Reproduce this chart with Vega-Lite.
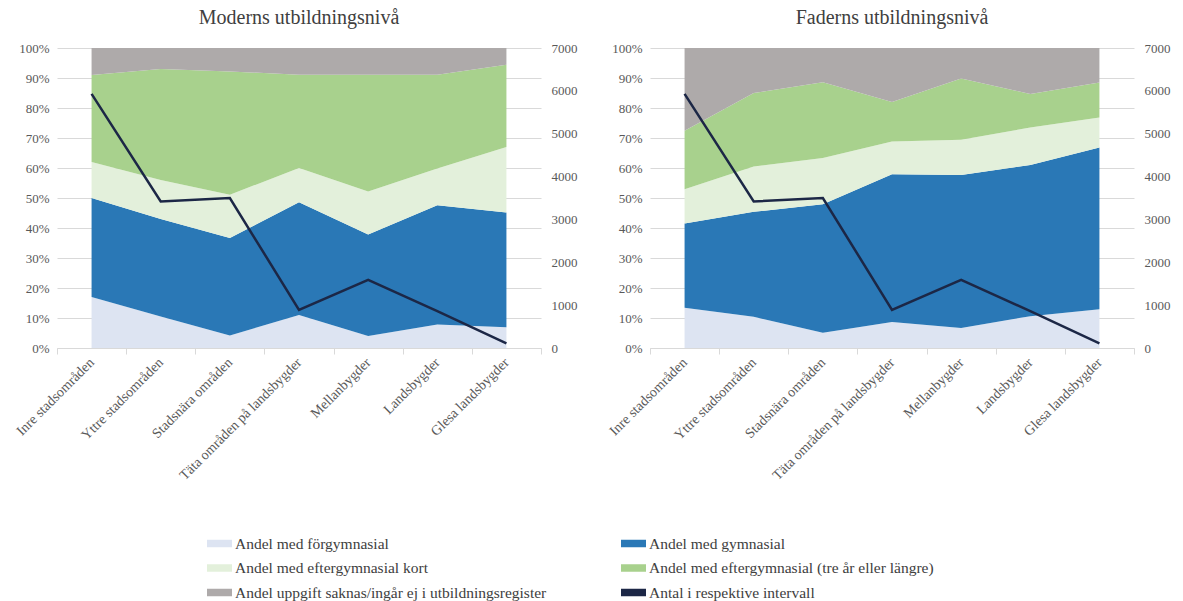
{
  "$schema": "https://vega.github.io/schema/vega-lite/v6.json",
  "background": "white",
  "padding": {"left": 13, "top": 8, "right": 5, "bottom": 0},
  "spacing": 29,
  "config": {
    "view": {"stroke": null},
    "font": "Liberation Serif",
    "axis": {"labelFont": "Liberation Serif", "labelColor": "#595959", "labelFontSize": 13, "titleFont": "Liberation Serif"},
    "title": {"font": "Liberation Serif", "fontSize": 20, "fontWeight": "normal", "color": "#404040", "offset": 14}
  },
  "datasets": {
    "andelar": [
      {"forelder": "Modern", "omrade": "Inre stadsområden", "nr": 1, "kategori": "Andel med förgymnasial", "andel": 0.17},
      {"forelder": "Modern", "omrade": "Inre stadsområden", "nr": 2, "kategori": "Andel med gymnasial", "andel": 0.33},
      {"forelder": "Modern", "omrade": "Inre stadsområden", "nr": 3, "kategori": "Andel med eftergymnasial kort", "andel": 0.12},
      {"forelder": "Modern", "omrade": "Inre stadsområden", "nr": 4, "kategori": "Andel med eftergymnasial (tre år eller längre)", "andel": 0.29},
      {"forelder": "Modern", "omrade": "Inre stadsområden", "nr": 5, "kategori": "Andel uppgift saknas/ingår ej i utbildningsregister", "andel": 0.09},
      {"forelder": "Modern", "omrade": "Yttre stadsområden", "nr": 1, "kategori": "Andel med förgymnasial", "andel": 0.105},
      {"forelder": "Modern", "omrade": "Yttre stadsområden", "nr": 2, "kategori": "Andel med gymnasial", "andel": 0.325},
      {"forelder": "Modern", "omrade": "Yttre stadsområden", "nr": 3, "kategori": "Andel med eftergymnasial kort", "andel": 0.13},
      {"forelder": "Modern", "omrade": "Yttre stadsområden", "nr": 4, "kategori": "Andel med eftergymnasial (tre år eller längre)", "andel": 0.37},
      {"forelder": "Modern", "omrade": "Yttre stadsområden", "nr": 5, "kategori": "Andel uppgift saknas/ingår ej i utbildningsregister", "andel": 0.07},
      {"forelder": "Modern", "omrade": "Stadsnära områden", "nr": 1, "kategori": "Andel med förgymnasial", "andel": 0.042},
      {"forelder": "Modern", "omrade": "Stadsnära områden", "nr": 2, "kategori": "Andel med gymnasial", "andel": 0.325},
      {"forelder": "Modern", "omrade": "Stadsnära områden", "nr": 3, "kategori": "Andel med eftergymnasial kort", "andel": 0.144},
      {"forelder": "Modern", "omrade": "Stadsnära områden", "nr": 4, "kategori": "Andel med eftergymnasial (tre år eller längre)", "andel": 0.411},
      {"forelder": "Modern", "omrade": "Stadsnära områden", "nr": 5, "kategori": "Andel uppgift saknas/ingår ej i utbildningsregister", "andel": 0.078},
      {"forelder": "Modern", "omrade": "Täta områden på landsbygder", "nr": 1, "kategori": "Andel med förgymnasial", "andel": 0.11},
      {"forelder": "Modern", "omrade": "Täta områden på landsbygder", "nr": 2, "kategori": "Andel med gymnasial", "andel": 0.376},
      {"forelder": "Modern", "omrade": "Täta områden på landsbygder", "nr": 3, "kategori": "Andel med eftergymnasial kort", "andel": 0.114},
      {"forelder": "Modern", "omrade": "Täta områden på landsbygder", "nr": 4, "kategori": "Andel med eftergymnasial (tre år eller längre)", "andel": 0.311},
      {"forelder": "Modern", "omrade": "Täta områden på landsbygder", "nr": 5, "kategori": "Andel uppgift saknas/ingår ej i utbildningsregister", "andel": 0.089},
      {"forelder": "Modern", "omrade": "Mellanbygder", "nr": 1, "kategori": "Andel med förgymnasial", "andel": 0.04},
      {"forelder": "Modern", "omrade": "Mellanbygder", "nr": 2, "kategori": "Andel med gymnasial", "andel": 0.338},
      {"forelder": "Modern", "omrade": "Mellanbygder", "nr": 3, "kategori": "Andel med eftergymnasial kort", "andel": 0.144},
      {"forelder": "Modern", "omrade": "Mellanbygder", "nr": 4, "kategori": "Andel med eftergymnasial (tre år eller längre)", "andel": 0.389},
      {"forelder": "Modern", "omrade": "Mellanbygder", "nr": 5, "kategori": "Andel uppgift saknas/ingår ej i utbildningsregister", "andel": 0.089},
      {"forelder": "Modern", "omrade": "Landsbygder", "nr": 1, "kategori": "Andel med förgymnasial", "andel": 0.078},
      {"forelder": "Modern", "omrade": "Landsbygder", "nr": 2, "kategori": "Andel med gymnasial", "andel": 0.398},
      {"forelder": "Modern", "omrade": "Landsbygder", "nr": 3, "kategori": "Andel med eftergymnasial kort", "andel": 0.122},
      {"forelder": "Modern", "omrade": "Landsbygder", "nr": 4, "kategori": "Andel med eftergymnasial (tre år eller längre)", "andel": 0.313},
      {"forelder": "Modern", "omrade": "Landsbygder", "nr": 5, "kategori": "Andel uppgift saknas/ingår ej i utbildningsregister", "andel": 0.089},
      {"forelder": "Modern", "omrade": "Glesa landsbygder", "nr": 1, "kategori": "Andel med förgymnasial", "andel": 0.069},
      {"forelder": "Modern", "omrade": "Glesa landsbygder", "nr": 2, "kategori": "Andel med gymnasial", "andel": 0.383},
      {"forelder": "Modern", "omrade": "Glesa landsbygder", "nr": 3, "kategori": "Andel med eftergymnasial kort", "andel": 0.218},
      {"forelder": "Modern", "omrade": "Glesa landsbygder", "nr": 4, "kategori": "Andel med eftergymnasial (tre år eller längre)", "andel": 0.274},
      {"forelder": "Modern", "omrade": "Glesa landsbygder", "nr": 5, "kategori": "Andel uppgift saknas/ingår ej i utbildningsregister", "andel": 0.056},
      {"forelder": "Fader", "omrade": "Inre stadsområden", "nr": 1, "kategori": "Andel med förgymnasial", "andel": 0.134},
      {"forelder": "Fader", "omrade": "Inre stadsområden", "nr": 2, "kategori": "Andel med gymnasial", "andel": 0.281},
      {"forelder": "Fader", "omrade": "Inre stadsområden", "nr": 3, "kategori": "Andel med eftergymnasial kort", "andel": 0.114},
      {"forelder": "Fader", "omrade": "Inre stadsområden", "nr": 4, "kategori": "Andel med eftergymnasial (tre år eller längre)", "andel": 0.195},
      {"forelder": "Fader", "omrade": "Inre stadsområden", "nr": 5, "kategori": "Andel uppgift saknas/ingår ej i utbildningsregister", "andel": 0.276},
      {"forelder": "Fader", "omrade": "Yttre stadsområden", "nr": 1, "kategori": "Andel med förgymnasial", "andel": 0.104},
      {"forelder": "Fader", "omrade": "Yttre stadsområden", "nr": 2, "kategori": "Andel med gymnasial", "andel": 0.35},
      {"forelder": "Fader", "omrade": "Yttre stadsområden", "nr": 3, "kategori": "Andel med eftergymnasial kort", "andel": 0.151},
      {"forelder": "Fader", "omrade": "Yttre stadsområden", "nr": 4, "kategori": "Andel med eftergymnasial (tre år eller längre)", "andel": 0.245},
      {"forelder": "Fader", "omrade": "Yttre stadsområden", "nr": 5, "kategori": "Andel uppgift saknas/ingår ej i utbildningsregister", "andel": 0.15},
      {"forelder": "Fader", "omrade": "Stadsnära områden", "nr": 1, "kategori": "Andel med förgymnasial", "andel": 0.051},
      {"forelder": "Fader", "omrade": "Stadsnära områden", "nr": 2, "kategori": "Andel med gymnasial", "andel": 0.428},
      {"forelder": "Fader", "omrade": "Stadsnära områden", "nr": 3, "kategori": "Andel med eftergymnasial kort", "andel": 0.154},
      {"forelder": "Fader", "omrade": "Stadsnära områden", "nr": 4, "kategori": "Andel med eftergymnasial (tre år eller längre)", "andel": 0.253},
      {"forelder": "Fader", "omrade": "Stadsnära områden", "nr": 5, "kategori": "Andel uppgift saknas/ingår ej i utbildningsregister", "andel": 0.114},
      {"forelder": "Fader", "omrade": "Täta områden på landsbygder", "nr": 1, "kategori": "Andel med förgymnasial", "andel": 0.087},
      {"forelder": "Fader", "omrade": "Täta områden på landsbygder", "nr": 2, "kategori": "Andel med gymnasial", "andel": 0.492},
      {"forelder": "Fader", "omrade": "Täta områden på landsbygder", "nr": 3, "kategori": "Andel med eftergymnasial kort", "andel": 0.109},
      {"forelder": "Fader", "omrade": "Täta områden på landsbygder", "nr": 4, "kategori": "Andel med eftergymnasial (tre år eller längre)", "andel": 0.132},
      {"forelder": "Fader", "omrade": "Täta områden på landsbygder", "nr": 5, "kategori": "Andel uppgift saknas/ingår ej i utbildningsregister", "andel": 0.18},
      {"forelder": "Fader", "omrade": "Mellanbygder", "nr": 1, "kategori": "Andel med förgymnasial", "andel": 0.067},
      {"forelder": "Fader", "omrade": "Mellanbygder", "nr": 2, "kategori": "Andel med gymnasial", "andel": 0.51},
      {"forelder": "Fader", "omrade": "Mellanbygder", "nr": 3, "kategori": "Andel med eftergymnasial kort", "andel": 0.117},
      {"forelder": "Fader", "omrade": "Mellanbygder", "nr": 4, "kategori": "Andel med eftergymnasial (tre år eller längre)", "andel": 0.204},
      {"forelder": "Fader", "omrade": "Mellanbygder", "nr": 5, "kategori": "Andel uppgift saknas/ingår ej i utbildningsregister", "andel": 0.102},
      {"forelder": "Fader", "omrade": "Landsbygder", "nr": 1, "kategori": "Andel med förgymnasial", "andel": 0.106},
      {"forelder": "Fader", "omrade": "Landsbygder", "nr": 2, "kategori": "Andel med gymnasial", "andel": 0.504},
      {"forelder": "Fader", "omrade": "Landsbygder", "nr": 3, "kategori": "Andel med eftergymnasial kort", "andel": 0.125},
      {"forelder": "Fader", "omrade": "Landsbygder", "nr": 4, "kategori": "Andel med eftergymnasial (tre år eller längre)", "andel": 0.112},
      {"forelder": "Fader", "omrade": "Landsbygder", "nr": 5, "kategori": "Andel uppgift saknas/ingår ej i utbildningsregister", "andel": 0.153},
      {"forelder": "Fader", "omrade": "Glesa landsbygder", "nr": 1, "kategori": "Andel med förgymnasial", "andel": 0.129},
      {"forelder": "Fader", "omrade": "Glesa landsbygder", "nr": 2, "kategori": "Andel med gymnasial", "andel": 0.539},
      {"forelder": "Fader", "omrade": "Glesa landsbygder", "nr": 3, "kategori": "Andel med eftergymnasial kort", "andel": 0.10},
      {"forelder": "Fader", "omrade": "Glesa landsbygder", "nr": 4, "kategori": "Andel med eftergymnasial (tre år eller längre)", "andel": 0.117},
      {"forelder": "Fader", "omrade": "Glesa landsbygder", "nr": 5, "kategori": "Andel uppgift saknas/ingår ej i utbildningsregister", "andel": 0.115}
    ],
    "antal": [
      {"omrade": "Inre stadsområden", "antal": 5930},
      {"omrade": "Yttre stadsområden", "antal": 3420},
      {"omrade": "Stadsnära områden", "antal": 3500},
      {"omrade": "Täta områden på landsbygder", "antal": 890},
      {"omrade": "Mellanbygder", "antal": 1590},
      {"omrade": "Landsbygder", "antal": 860},
      {"omrade": "Glesa landsbygder", "antal": 110}
    ]
  },
  "hconcat": [
    {
      "title": {"text": "Moderns utbildningsnivå"},
      "width": 484,
      "height": 300,
      "layer": [
        {
          "data": {"name": "andelar"},
          "transform": [{"filter": "datum.forelder === 'Modern'"}],
          "mark": {"type": "area", "opacity": 1},
          "encoding": {
            "x": {"field": "omrade", "type": "nominal", "sort": ["Inre stadsområden", "Yttre stadsområden", "Stadsnära områden", "Täta områden på landsbygder", "Mellanbygder", "Landsbygder", "Glesa landsbygder"], "scale": {"type": "band", "paddingInner": 0, "paddingOuter": 0}, "bandPosition": 0.5, "axis": {"title": null, "labelAngle": -45, "labelAlign": "right", "labelBaseline": "middle", "tickBand": "extent", "domainColor": "#d9d9d9", "tickColor": "#d9d9d9", "tickSize": 6, "labelPadding": 6, "labelFontSize": 14}},
            "y": {"field": "andel", "type": "quantitative", "stack": "zero", "scale": {"domain": [0, 1], "nice": false}, "axis": {"title": null, "format": ".0%", "values": [0, 0.1, 0.2, 0.3, 0.4, 0.5, 0.6, 0.7, 0.8, 0.9, 1], "grid": true, "gridColor": "#d9d9d9", "domain": false, "ticks": false, "labelPadding": 8}},
            "order": {"field": "nr", "type": "quantitative", "sort": "ascending"},
            "color": {"field": "kategori", "type": "nominal",
              "scale": {"domain": ["Andel med förgymnasial", "Andel med gymnasial", "Andel med eftergymnasial kort", "Andel med eftergymnasial (tre år eller längre)", "Andel uppgift saknas/ingår ej i utbildningsregister", "Antal i respektive intervall"], "range": ["#dde4f2", "#2a78b6", "#e3f0db", "#a8d18d", "#aeaaaa", "#1c2746"]},
              "legend": {
                "title": null, "orient": "none", "legendX": 150, "legendY": 483, "columns": 2, "direction": "horizontal",
                "labelFont": "Liberation Serif", "labelFontSize": 15.5, "labelColor": "#404040", "labelLimit": 420,
                "symbolSize": 625, "symbolType": "M-1,-0.3H1V0.3H-1Z", "symbolStrokeWidth": 0, "rowPadding": 3.5, "columnPadding": 74, "labelOffset": 3, "gridAlign": "all",
                "encode": {"symbols": {"update": {
                  "shape": {"signal": "datum.value === 'Antal i respektive intervall' ? 'M-1,-0.07H1V0.07H-1Z' : 'M-1,-0.3H1V0.3H-1Z'"},
                  "fill": {"signal": "scale('color', datum.value)"},
                  "strokeWidth": {"value": 0},
                  "opacity": {"value": 1}
                }}}
              }
            }
          }
        },
        {
          "data": {"name": "antal"},
          "mark": {"type": "line", "strokeWidth": 2.5},
          "encoding": {
            "x": {"field": "omrade", "type": "nominal", "sort": ["Inre stadsområden", "Yttre stadsområden", "Stadsnära områden", "Täta områden på landsbygder", "Mellanbygder", "Landsbygder", "Glesa landsbygder"], "bandPosition": 0.5},
            "y": {"field": "antal", "type": "quantitative", "scale": {"domain": [0, 7000], "nice": false}, "axis": {"title": null, "orient": "right", "values": [0, 1000, 2000, 3000, 4000, 5000, 6000, 7000], "format": "d", "grid": false, "domain": false, "ticks": false, "labelPadding": 10}},
            "color": {"datum": "Antal i respektive intervall"}
          }
        }
      ],
      "resolve": {"scale": {"y": "independent"}}
    },
    {
      "title": {"text": "Faderns utbildningsnivå"},
      "width": 484,
      "height": 300,
      "layer": [
        {
          "data": {"name": "andelar"},
          "transform": [{"filter": "datum.forelder === 'Fader'"}],
          "mark": {"type": "area", "opacity": 1},
          "encoding": {
            "x": {"field": "omrade", "type": "nominal", "sort": ["Inre stadsområden", "Yttre stadsområden", "Stadsnära områden", "Täta områden på landsbygder", "Mellanbygder", "Landsbygder", "Glesa landsbygder"], "scale": {"type": "band", "paddingInner": 0, "paddingOuter": 0}, "bandPosition": 0.5, "axis": {"title": null, "labelAngle": -45, "labelAlign": "right", "labelBaseline": "middle", "tickBand": "extent", "domainColor": "#d9d9d9", "tickColor": "#d9d9d9", "tickSize": 6, "labelPadding": 6, "labelFontSize": 14}},
            "y": {"field": "andel", "type": "quantitative", "stack": "zero", "scale": {"domain": [0, 1], "nice": false}, "axis": {"title": null, "format": ".0%", "values": [0, 0.1, 0.2, 0.3, 0.4, 0.5, 0.6, 0.7, 0.8, 0.9, 1], "grid": true, "gridColor": "#d9d9d9", "domain": false, "ticks": false, "labelPadding": 8}},
            "order": {"field": "nr", "type": "quantitative", "sort": "ascending"},
            "color": {"field": "kategori", "type": "nominal"}
          }
        },
        {
          "data": {"name": "antal"},
          "mark": {"type": "line", "strokeWidth": 2.5},
          "encoding": {
            "x": {"field": "omrade", "type": "nominal", "sort": ["Inre stadsområden", "Yttre stadsområden", "Stadsnära områden", "Täta områden på landsbygder", "Mellanbygder", "Landsbygder", "Glesa landsbygder"], "bandPosition": 0.5},
            "y": {"field": "antal", "type": "quantitative", "scale": {"domain": [0, 7000], "nice": false}, "axis": {"title": null, "orient": "right", "values": [0, 1000, 2000, 3000, 4000, 5000, 6000, 7000], "format": "d", "grid": false, "domain": false, "ticks": false, "labelPadding": 10}},
            "color": {"datum": "Antal i respektive intervall"}
          }
        }
      ],
      "resolve": {"scale": {"y": "independent"}}
    }
  ],
  "resolve": {"scale": {"color": "shared"}}
}
